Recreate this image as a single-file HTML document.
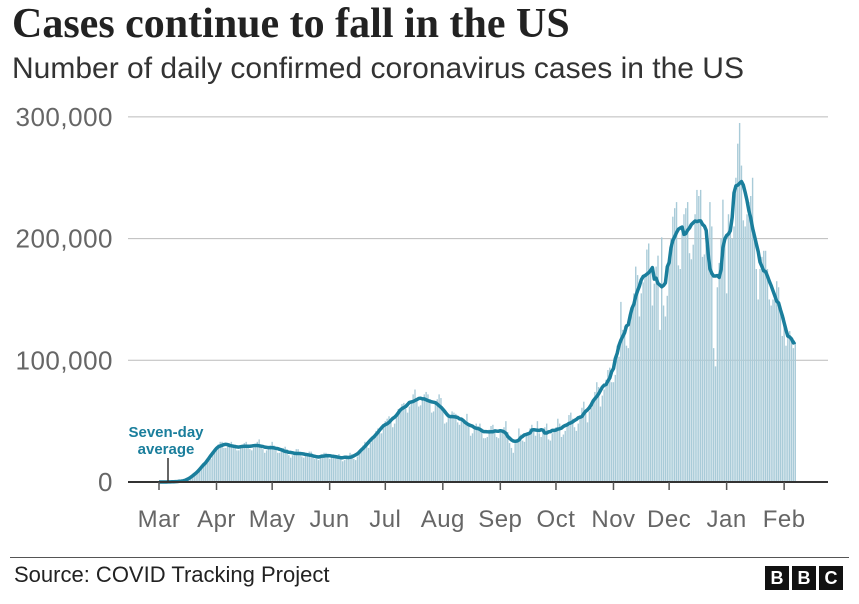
<!DOCTYPE html>
<html><head><meta charset="utf-8"><style>
body{margin:0;width:859px;height:604px;background:#fff;font-family:"Liberation Sans",sans-serif;overflow:hidden;position:relative}
.t{position:absolute;left:12px;top:0px;font-family:"Liberation Serif",serif;font-size:42px;font-weight:bold;color:#222}
.s{position:absolute;left:12px;top:52px;font-size:30px;color:#333}
.src{position:absolute;left:14px;top:562px;font-size:22px;color:#222}
.rule{position:absolute;left:10px;right:10px;top:557px;height:1px;background:#555}
.bbc{position:absolute;top:566px;display:flex;gap:3px;right:16px}
.bbc span{width:24px;height:24px;background:#111;color:#fff;font-weight:bold;font-size:18px;text-align:center;line-height:24px}
</style></head><body>
<div class="t">Cases continue to fall in the US</div>
<div class="s">Number of daily confirmed coronavirus cases in the US</div>
<svg id="c" width="859" height="604" style="position:absolute;left:0;top:0"></svg>
<div class="rule"></div>
<div class="src">Source: COVID Tracking Project</div>
<div class="bbc"><span>B</span><span>B</span><span>C</span></div>
<script>
const yTicks=[0,100000,200000,300000];
const yTickLabels=["0","100,000","200,000","300,000"];
const months=["Mar","Apr","May","Jun","Jul","Aug","Sep","Oct","Nov","Dec","Jan","Feb"];
const monthStartDay=[0,31,61,92,122,153,184,214,245,275,306,337];
const mar=[0,0,0,0,0,0,0,0.1,0.2,0.3,0.4,0.5,0.7,0.9,1,1.5,2,3,5,6,8,9,10,11,13,17,19,20,19,24,26];
const apr=[28,31,33,33,28,28,30,32,33,31,28,26,26,28,30,32,33,30,27,26,28,30,33,35,31,27,24,26,28,30];
const may=[33,30,27,24,24,26,28,29,27,22,20,22,23,27,27,24,21,20,22,22,25,25,22,19,19,18,20,22,24,24,22];
const jun=[19,20,21,21,22,23,20,17,18,19,21,24,23,19,18,21,24,27,30,33,31,28,32,36,39,42,44,40,40,44];
const jul=[50,52,54,50,45,48,56,60,60,64,65,60,57,62,66,72,76,68,62,63,67,72,74,72,68,57,58,64,68,72,69];
const aug=[60,48,49,53,55,58,57,56,49,47,52,52,50,56,48,38,40,45,48,46,48,44,36,36,37,43,46,47,43,37,36];
const sep=[42,42,45,50,41,32,28,24,32,35,44,39,34,33,38,39,44,47,43,38,50,40,37,43,45,48,35,34,40,43];
const oct=[45,52,48,37,39,42,47,55,57,52,45,42,48,55,61,66,56,49,58,61,64,74,82,78,62,71,76,84,92,94,82];
const nov=[82,88,112,103,148,125,128,112,110,132,143,155,177,170,136,155,164,170,191,196,175,145,163,177,186,125,201,145,136,153];
const dec=[185,200,218,225,230,178,175,208,220,225,230,188,183,195,220,240,235,240,185,187,195,200,230,210,110,95,160,180,200,232,200];
const jan=[155,220,210,200,210,250,278,295,260,215,210,220,230,235,250,200,175,150,175,185,190,190,175,150,145,150,155,165,160,145,120];
const feb=[135,112,120,124,118,110,115];
const daily=[].concat(mar,apr,may,jun,jul,aug,sep,oct,nov,dec,jan,feb).map(v=>v*1000);
const svg=document.getElementById('c');const NS='http://www.w3.org/2000/svg';
const x=d=>159+d*1.855;
const y=v=>482-v*121.7/100000;
function mk(t,a){const e=document.createElementNS(NS,t);for(const k in a)e.setAttribute(k,a[k]);svg.appendChild(e);return e;}
yTicks.forEach((v,i)=>{
 if(v>0){const g=mk('line',{x1:128,x2:828,y1:y(v),y2:y(v),stroke:'#bbb','stroke-width':1});
 
 }
 const t=mk('text',{x:113,y:y(v)+9,'text-anchor':'end','font-size':26,fill:'#666','letter-spacing':'0.5'});t.textContent=yTickLabels[i];
 
 
});
daily.forEach((v,i)=>{const r=mk('rect',{x:x(i)-0.7,y:y(v),width:1.4,height:Math.max(0,482-y(v)),fill:'#a9cbd8'});
 
 });
const N=daily.length;
const avg=daily.map((v,i)=>{const h=Math.min(3,i,N-1-i);let s=0,n=0;for(let j=i-h;j<=i+h;j++){s+=daily[j];n++;}return s/n;});
const p=mk('path',{d:avg.map((v,i)=>(i?'L':'M')+x(i).toFixed(1)+','+y(v).toFixed(1)).join(''),fill:'none',stroke:'#1a7e9c','stroke-width':3.5,'stroke-linejoin':'round'});


const ax=mk('line',{x1:128,x2:828,y1:482,y2:482,stroke:'#333','stroke-width':2});


months.forEach((m,i)=>{const tk=mk('line',{x1:x(monthStartDay[i]),x2:x(monthStartDay[i]),y1:482,y2:490,stroke:'#555','stroke-width':1.5});
 
 
 const t=mk('text',{x:x(monthStartDay[i]),y:527,'text-anchor':'middle','font-size':24,fill:'#666','letter-spacing':'0.5'});t.textContent=m;
 
 });
const al=mk('line',{x1:168,x2:168,y1:458,y2:482,stroke:'#333','stroke-width':1.5});


[['Seven-day',437],['average',454]].forEach(a=>{const t=mk('text',{x:166,y:a[1],'text-anchor':'middle','font-size':15,'font-weight':'bold',fill:'#1a7e9c'});t.textContent=a[0];
 
 });
</script>
</body></html>
